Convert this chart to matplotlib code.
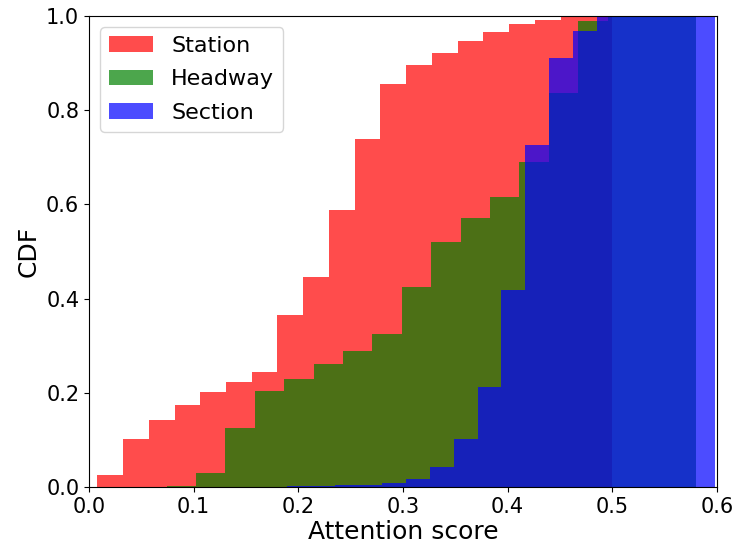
import matplotlib
matplotlib.use('Agg')
import matplotlib.pyplot as plt
import numpy as np

# cumulative fraction per bin
station_lo, station_hi = 0.0079, 0.4998
station_cdf = [0.026, 0.101, 0.143, 0.175, 0.202, 0.222, 0.245, 0.366, 0.446, 0.589,
               0.739, 0.855, 0.896, 0.921, 0.946, 0.967, 0.982, 0.991, 0.997, 1.0]

headway_lo, headway_hi = 0.0742, 0.5797
headway_cdf = [0.002, 0.030, 0.125, 0.204, 0.229, 0.262, 0.288, 0.324, 0.425,
               0.521, 0.572, 0.615, 0.690, 0.836, 0.989, 1.0, 1.0, 1.0]

section_lo, section_hi = 0.1894, 0.5986
section_cdf = [0.0015, 0.0015, 0.0036, 0.0036, 0.009, 0.016, 0.042, 0.101, 0.212,
               0.419, 0.726, 0.911, 0.969, 1.0, 1.0, 1.0, 1.0, 1.0]

series = [('Station', station_lo, station_hi, station_cdf, 'red'),
          ('Headway', headway_lo, headway_hi, headway_cdf, 'green'),
          ('Section', section_lo, section_hi, section_cdf, 'blue')]

fig = plt.figure(figsize=(7.37, 5.46), dpi=100)
ax = fig.add_axes([0.1208, 0.108, 0.852, 0.8627])

for name, lo, hi, cdf, col in series:
    edges = np.linspace(lo, hi, len(cdf) + 1)
    ax.stairs(cdf, edges, fill=True, color=col, alpha=0.7, linewidth=0, label=name)

ax.set_xlim(0, 0.6)
ax.set_ylim(0, 1.0)
ax.set_xticks(np.arange(0, 0.61, 0.1))
ax.set_yticks(np.arange(0, 1.01, 0.2))
ax.tick_params(labelsize=15)
ax.set_xlabel('Attention score', fontsize=18, labelpad=2)
ax.set_ylabel('CDF', fontsize=18)
ax.legend(loc='upper left', fontsize=16, labelspacing=0.6)

fig.savefig('out.png', dpi=100)
